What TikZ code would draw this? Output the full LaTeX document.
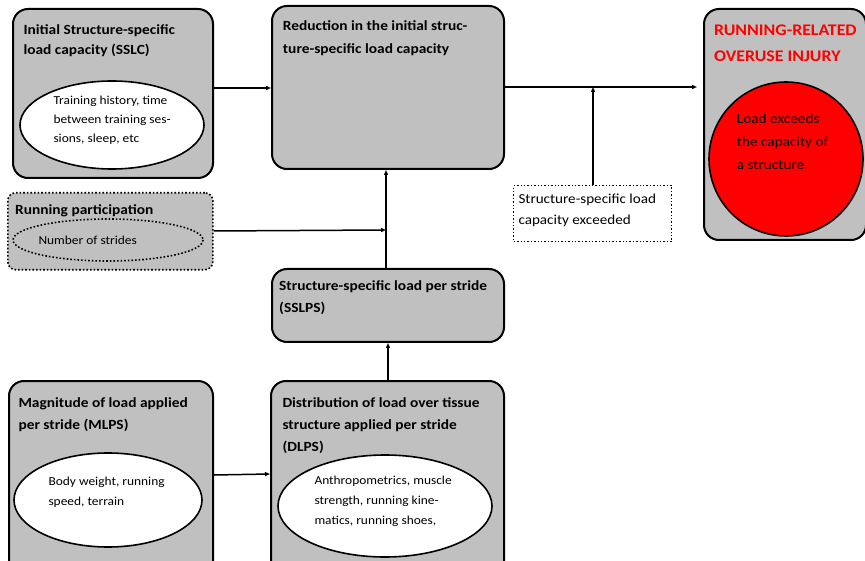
\documentclass[tikz,border=0pt]{standalone}
\usepackage{fontspec}
\setmainfont{Carlito}[FakeStretch=1.1]
\usetikzlibrary{arrows.meta}
\definecolor{boxgray}{HTML}{C0C0C0}
\tikzset{
  box/.style={draw=black, line width=2pt, fill=boxgray, rounded corners=15pt, anchor=north west, inner sep=0pt},
  dotbox/.style={draw=black, line width=1.6pt, dotted, fill=boxgray, rounded corners=8pt, anchor=north west, inner sep=0pt},
  plainbox/.style={draw=black, line width=1.4pt, dotted, fill=white, anchor=north west, inner sep=0pt},
  title/.style={anchor=north west, inner sep=0pt, align=left, font=\bfseries\fontsize{14}{22}\selectfont},
  body/.style={anchor=north west, inner sep=0pt, align=left, font=\fontsize{12.2}{20}\selectfont},
  conn/.style={line width=1.5pt, -{Triangle[length=5pt,width=4pt]}},
}
\begin{document}
\begin{tikzpicture}[x=1pt,y=-1pt]
\useasboundingbox (0,0) rectangle (865,561);
\clip (0,0) rectangle (865,561);
% boxes
\node[box, minimum width=200pt, minimum height=169pt] (sslc) at (12,8) {};
\node[title, font=\bfseries\fontsize{14}{20}\selectfont] (sslct) at (23.3,24) {Initial Structure-specific\\load capacity (SSLC)};
\draw[line width=1.6pt, fill=white] (112,125) ellipse [x radius=92, y radius=44];
\node[body, font=\fontsize{12.2}{19}\selectfont] (sslce) at (53.3,95.7) {Training history, time\\between training ses-\\sions, sleep, etc};

\node[box, minimum width=232pt, minimum height=163pt] (red) at (271,5) {};
\node[title, font=\bfseries\fontsize{14}{22.7}\selectfont] (redt) at (282.7,20.7) {Reduction in the initial struc-\\ture-specific load capacity};

\node[box, minimum width=162pt, minimum height=231pt] (inj) at (703,8) {};
\node[title, text=red, font=\bfseries\fontsize{16.2}{26}\selectfont] (injt) at (714,25) {RUNNING-RELATED\\OVERUSE INJURY};
\draw[line width=1.6pt, fill=red] (786,159) circle [radius=77];
\node[body, font=\fontsize{13.9}{23}\selectfont] (injc) at (736.7,114) {Load exceeds\\the capacity of\\a structure};

\node[dotbox, minimum width=205pt, minimum height=77pt] (run) at (7,192) {};
\node[title] (runt) at (15,204) {Running participation};
\draw[line width=1.6pt, dotted] (108,240) ellipse [x radius=95, y radius=21];
\node[body] (rune) at (38.3,235.7) {Number of strides};

\node[plainbox, minimum width=158pt, minimum height=56pt] (exc) at (513,185) {};
\node[body, font=\fontsize{13.75}{21}\selectfont] (exct) at (518.3,194) {Structure-specific load\\capacity exceeded};

\node[box, minimum width=232pt, minimum height=73pt] (sslps) at (271,268) {};
\node[title, font=\bfseries\fontsize{14}{21.7}\selectfont] (sslpst) at (279,280.7) {Structure-specific load per stride\\(SSLPS)};

\node[box, minimum width=204pt, minimum height=200pt] (mlps) at (8,380) {};
\node[title] (mlpst) at (18.3,397.3) {Magnitude of load applied\\per stride (MLPS)};
\draw[line width=1.6pt, fill=white] (108,500) ellipse [x radius=94, y radius=47];
\node[body] (mlpse) at (48.3,477.3) {Body weight, running\\speed, terrain};

\node[box, minimum width=233pt, minimum height=200pt] (dlps) at (270,380) {};
\node[title] (dlpst) at (282.3,397) {Distribution of load over tissue\\structure applied per stride\\(DLPS)};
\draw[line width=1.6pt, fill=white] (385,506) ellipse [x radius=107, y radius=51];
\node[body] (dlpse) at (314.3,475.7) {Anthropometrics, muscle\\strength, running kine-\\matics, running shoes,};

% connectors
\coordinate (j1) at (593,87);
\coordinate (j2) at (386,230);
\draw[conn] (sslc.east |- 0,88) -- (red.west |- 0,88);
\draw[conn] (red.east |- 0,87) -- (697,87);
\draw[conn] (exc.north -| j1) -- (j1);
\draw[conn] (run.east |- 0,231) -- (j2);
\draw[conn] (sslps.north -| j2) -- (red.south -| j2);
\draw[conn] (dlps.north -| 388,0) -- (sslps.south -| 388,0);
\draw[conn] (mlps.east |- 0,475) -- (dlps.west |- 0,474);
\end{tikzpicture}
\end{document}
